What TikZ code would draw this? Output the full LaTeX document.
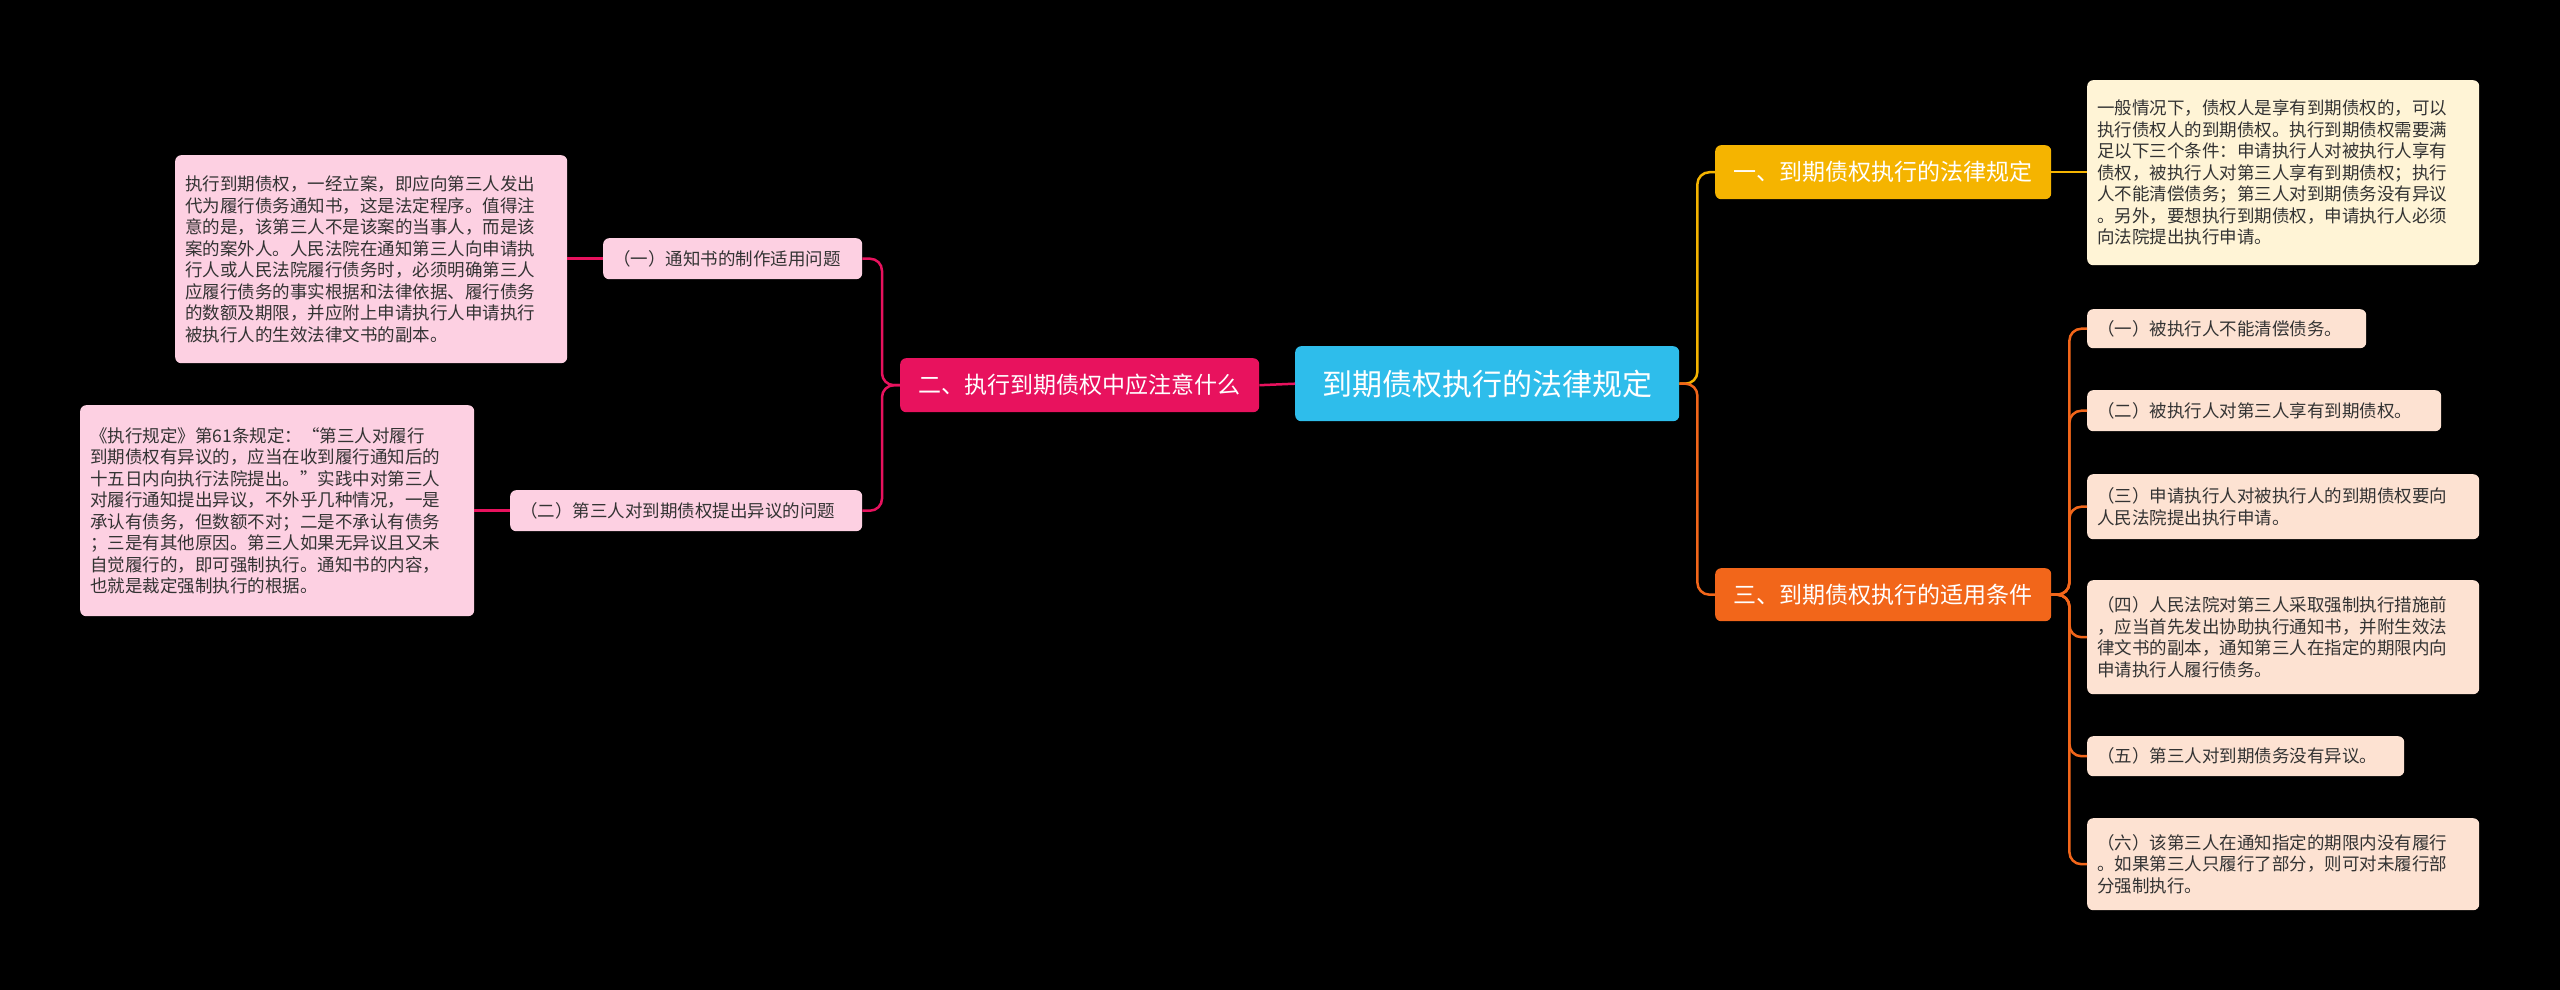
\documentclass[tikz,border=0pt]{standalone}
\usepackage{fontspec}
\newfontfamily\cjk{Noto Sans CJK SC}
\definecolor{rootc}{HTML}{2EBDEB}
\definecolor{yel}{HTML}{F5B400}
\definecolor{ora}{HTML}{F2661A}
\definecolor{pnk}{HTML}{E8125E}
\definecolor{yfill}{HTML}{FFF4D6}
\definecolor{ofill}{HTML}{FDE2D2}
\definecolor{pfill}{HTML}{FDD0E2}
\definecolor{txt}{HTML}{333333}
\begin{document}
\begin{tikzpicture}[x=1pt,y=-1pt,
  box/.style={rounded corners=6pt, anchor=north west, align=left, inner xsep=10pt, inner ysep=6pt, text=txt, font=\cjk\fontsize{17.5}{21.5}\selectfont},
  br/.style={rounded corners=6pt, anchor=north west, align=center, inner sep=0pt, text=white, font=\cjk\fontsize{23}{27}\selectfont},
  ln/.style={line width=2.5pt, rounded corners=12pt}]
\fill[black] (0,0) rectangle (2560,990);
\node[br, fill=rootc, minimum width=384pt, minimum height=75pt, font=\cjk\fontsize{30}{34}\selectfont] (root) at (1295,346) {到期债权执行的法律规定};
\node[br, fill=yel, minimum width=336pt, minimum height=54pt] (b1) at (1715,145) {一、到期债权执行的法律规定};
\node[br, fill=ora, minimum width=336pt, minimum height=53pt] (b3) at (1715,568) {三、到期债权执行的适用条件};
\node[br, fill=pnk, minimum width=359pt, minimum height=54pt] (b2) at (900,358) {二、执行到期债权中应注意什么};
\node[box, fill=yfill, text width=372pt, minimum height=185pt] (l1) at (2087,80) {一般情况下，债权人是享有到期债权的，可以\\执行债权人的到期债权。执行到期债权需要满\\足以下三个条件：申请执行人对被执行人享有\\债权，被执行人对第三人享有到期债权；执行\\人不能清偿债务；第三人对到期债务没有异议\\。另外，要想执行到期债权，申请执行人必须\\向法院提出执行申请。};
\node[box, fill=ofill, text width=259pt, minimum height=39pt] (c1) at (2087,309) {（一）被执行人不能清偿债务。};
\node[box, fill=ofill, text width=334pt, minimum height=41pt] (c2) at (2087,390) {（二）被执行人对第三人享有到期债权。};
\node[box, fill=ofill, text width=372pt, minimum height=65pt] (c3) at (2087,474) {（三）申请执行人对被执行人的到期债权要向\\人民法院提出执行申请。};
\node[box, fill=ofill, text width=372pt, minimum height=114pt] (c4) at (2087,580) {（四）人民法院对第三人采取强制执行措施前\\，应当首先发出协助执行通知书，并附生效法\\律文书的副本，通知第三人在指定的期限内向\\申请执行人履行债务。};
\node[box, fill=ofill, text width=297pt, minimum height=40pt] (c5) at (2087,736) {（五）第三人对到期债务没有异议。};
\node[box, fill=ofill, text width=372pt, minimum height=92pt] (c6) at (2087,818) {（六）该第三人在通知指定的期限内没有履行\\。如果第三人只履行了部分，则可对未履行部\\分强制执行。};
\node[box, fill=pfill, text width=239pt, minimum height=41pt] (n1) at (603,238) {（一）通知书的制作适用问题};
\node[box, fill=pfill, text width=332pt, minimum height=41pt] (n2) at (510,490) {（二）第三人对到期债权提出异议的问题};
\node[box, fill=pfill, text width=372pt, minimum height=208pt] (t1) at (175,155) {执行到期债权，一经立案，即应向第三人发出\\代为履行债务通知书，这是法定程序。值得注\\意的是，该第三人不是该案的当事人，而是该\\案的案外人。人民法院在通知第三人向申请执\\行人或人民法院履行债务时，必须明确第三人\\应履行债务的事实根据和法律依据、履行债务\\的数额及期限，并应附上申请执行人申请执行\\被执行人的生效法律文书的副本。};
\node[box, fill=pfill, text width=374pt, minimum height=211pt] (t2) at (80,405) {《执行规定》第61条规定：“第三人对履行\\到期债权有异议的，应当在收到履行通知后的\\十五日内向执行法院提出。”实践中对第三人\\对履行通知提出异议，不外乎几种情况，一是\\承认有债务，但数额不对；二是不承认有债务\\；三是有其他原因。第三人如果无异议且又未\\自觉履行的，即可强制执行。通知书的内容，\\也就是裁定强制执行的根据。};
\draw[ln, yel] (root.east) -- ++(18,0) |- (b1.west);
\draw[ln, ora] (root.east) -- ++(18,0) |- (b3.west);
\draw[ln, pnk] (root.west) -- (b2.east);
\draw[ln, yel] (b1.east) -- (l1.west |- b1.east);
\foreach \c in {c1,c2,c3,c4,c5,c6} \draw[ln, ora] (b3.east) -- ++(18,0) |- (\c.west);
\draw[ln, pnk] (b2.west) -- ++(-18,0) |- (n1.east);
\draw[ln, pnk] (b2.west) -- ++(-18,0) |- (n2.east);
\draw[ln, pnk] (n1.west) -- (t1.east |- n1.west);
\draw[ln, pnk] (n2.west) -- (t2.east |- n2.west);
\end{tikzpicture}
\end{document}
